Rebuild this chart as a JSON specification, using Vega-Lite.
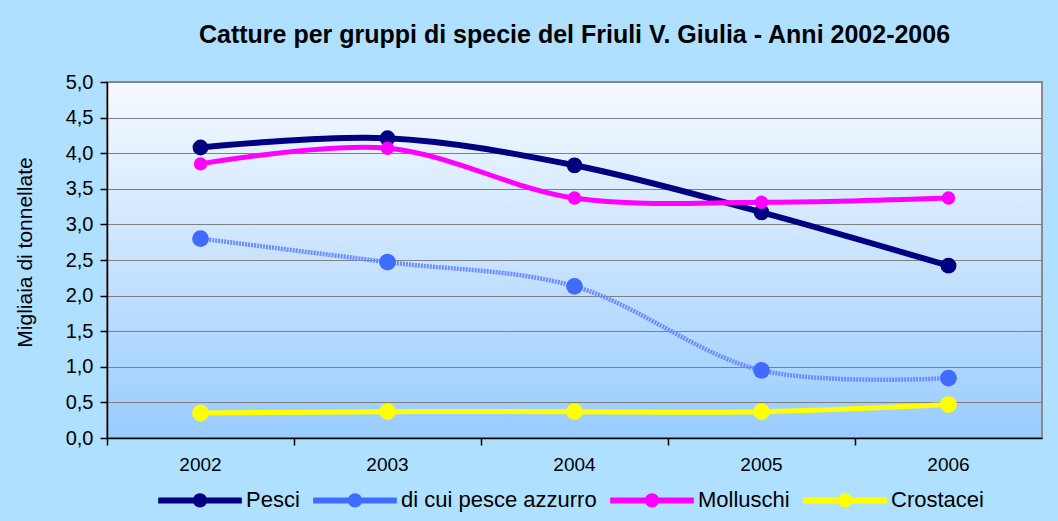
{
  "$schema": "https://vega.github.io/schema/vega-lite/v6.json",
  "width": 935,
  "height": 356,
  "autosize": {"type": "none"},
  "padding": {"left": 107, "top": 82, "right": 16, "bottom": 83},
  "background": "#afe0ff",
  "title": {
    "text": "Catture per gruppi di specie del Friuli V. Giulia -  Anni 2002-2006",
    "font": "Liberation Sans",
    "fontSize": 25,
    "fontWeight": "bold",
    "color": "#000000",
    "anchor": "middle",
    "offset": 24
  },
  "config": {
    "locale": {"number": {"decimal": ",", "thousands": ".", "grouping": [3], "currency": ["€", ""]}},
    "view": {
      "stroke": "#8a8a8a",
      "strokeWidth": 2,
      "fill": {
        "gradient": "linear",
        "x1": 0, "y1": 0, "x2": 0, "y2": 1,
        "stops": [{"offset": 0, "color": "#f7faff"}, {"offset": 1, "color": "#99ccff"}]
      }
    },
    "axis": {
      "labelFont": "Liberation Sans",
      "titleFont": "Liberation Sans",
      "labelFontSize": 19,
      "titleFontSize": 21,
      "labelColor": "#000000",
      "titleColor": "#000000",
      "titleFontWeight": "normal",
      "domainColor": "#000000",
      "tickColor": "#000000",
      "domainWidth": 1.5,
      "tickWidth": 1.5,
      "tickSize": 7
    }
  },
  "datasets": {
    "catture": [
      {"anno": "2002", "serie": "Pesci", "val": 4.08},
      {"anno": "2003", "serie": "Pesci", "val": 4.21},
      {"anno": "2004", "serie": "Pesci", "val": 3.83},
      {"anno": "2005", "serie": "Pesci", "val": 3.17},
      {"anno": "2006", "serie": "Pesci", "val": 2.42},
      {"anno": "2002", "serie": "di cui pesce azzurro", "val": 2.8},
      {"anno": "2003", "serie": "di cui pesce azzurro", "val": 2.47},
      {"anno": "2004", "serie": "di cui pesce azzurro", "val": 2.13},
      {"anno": "2005", "serie": "di cui pesce azzurro", "val": 0.95},
      {"anno": "2006", "serie": "di cui pesce azzurro", "val": 0.84},
      {"anno": "2002", "serie": "Molluschi", "val": 3.85},
      {"anno": "2003", "serie": "Molluschi", "val": 4.07},
      {"anno": "2004", "serie": "Molluschi", "val": 3.37},
      {"anno": "2005", "serie": "Molluschi", "val": 3.31},
      {"anno": "2006", "serie": "Molluschi", "val": 3.37},
      {"anno": "2002", "serie": "Crostacei", "val": 0.35},
      {"anno": "2003", "serie": "Crostacei", "val": 0.37},
      {"anno": "2004", "serie": "Crostacei", "val": 0.37},
      {"anno": "2005", "serie": "Crostacei", "val": 0.37},
      {"anno": "2006", "serie": "Crostacei", "val": 0.47}
    ]
  },
  "data": {"name": "catture"},
  "encoding": {
    "x": {
      "field": "anno",
      "type": "ordinal",
      "bandPosition": 0.5,
      "scale": {"type": "band", "paddingInner": 0, "paddingOuter": 0},
      "axis": {
        "title": null,
        "labelAngle": 0,
        "bandPosition": 0,
        "labelOffset": 0,
        "labelPadding": 10,
        "grid": false
      }
    },
    "y": {
      "field": "val",
      "type": "quantitative",
      "scale": {"domain": [0, 5], "nice": false, "zero": true},
      "axis": {
        "title": "Migliaia di tonnellate",
        "values": [0, 0.5, 1, 1.5, 2, 2.5, 3, 3.5, 4, 4.5, 5],
        "format": ".1f",
        "grid": true,
        "gridColor": "#808080",
        "gridWidth": 1.2,
        "labelFontSize": 20,
        "labelPadding": 7,
        "titlePadding": 30,
        "titleY": 170
      }
    },
    "color": {
      "field": "serie",
      "type": "nominal",
      "scale": {
        "domain": ["Pesci", "di cui pesce azzurro", "Molluschi", "Crostacei"],
        "range": ["#000080", "#3f6cff", "#ff00ff", "#ffff00"]
      },
      "legend": {
        "title": null,
        "orient": "none",
        "legendX": 48,
        "legendY": 373,
        "direction": "horizontal",
        "labelFont": "Liberation Sans",
        "labelFontSize": 22,
        "labelLimit": 400,
        "labelColor": "#000000",
        "labelOffset": 1,
        "columnPadding": 1,
        "symbolType": "M-1,0H1M0.1,0A0.1,0.1,0,1,1,-0.1,0A0.1,0.1,0,1,1,0.1,0Z",
        "symbolSize": 7000,
        "symbolStrokeWidth": 6,
        "symbolOpacity": 1,
        "encode": {
          "symbols": {
            "update": {
              "shape": {"value": "M-1,0H1M0.1,0A0.1,0.1,0,1,1,-0.1,0A0.1,0.1,0,1,1,0.1,0Z"},
              "size": {"value": 7000},
              "fill": {"scale": "color", "field": "value"},
              "stroke": {"scale": "color", "field": "value"},
              "strokeWidth": {"value": 6},
              "opacity": {"value": 1}
            }
          }
        }
      }
    }
  },
  "layer": [
    {
      "transform": [{"filter": "datum.serie === 'Pesci'"}],
      "mark": {"type": "line", "interpolate": "catmull-rom", "strokeWidth": 6}
    },
    {
      "transform": [{"filter": "datum.serie === 'Pesci'"}],
      "mark": {"type": "circle", "opacity": 1, "size": 250}
    },
    {
      "transform": [{"filter": "datum.serie === 'di cui pesce azzurro'"}],
      "mark": {"type": "line", "interpolate": "catmull-rom", "strokeWidth": 4.5, "strokeDash": [2, 1]},
      "encoding": {"color": {"value": "#6b8dff"}}
    },
    {
      "transform": [{"filter": "datum.serie === 'di cui pesce azzurro'"}],
      "mark": {"type": "circle", "opacity": 1, "size": 280}
    },
    {
      "transform": [{"filter": "datum.serie === 'Molluschi'"}],
      "mark": {"type": "line", "interpolate": "catmull-rom", "strokeWidth": 5}
    },
    {
      "transform": [{"filter": "datum.serie === 'Molluschi'"}],
      "mark": {"type": "circle", "opacity": 1, "size": 180}
    },
    {
      "transform": [{"filter": "datum.serie === 'Crostacei'"}],
      "mark": {"type": "line", "interpolate": "catmull-rom", "strokeWidth": 5}
    },
    {
      "transform": [{"filter": "datum.serie === 'Crostacei'"}],
      "mark": {"type": "circle", "opacity": 1, "size": 280}
    }
  ]
}
